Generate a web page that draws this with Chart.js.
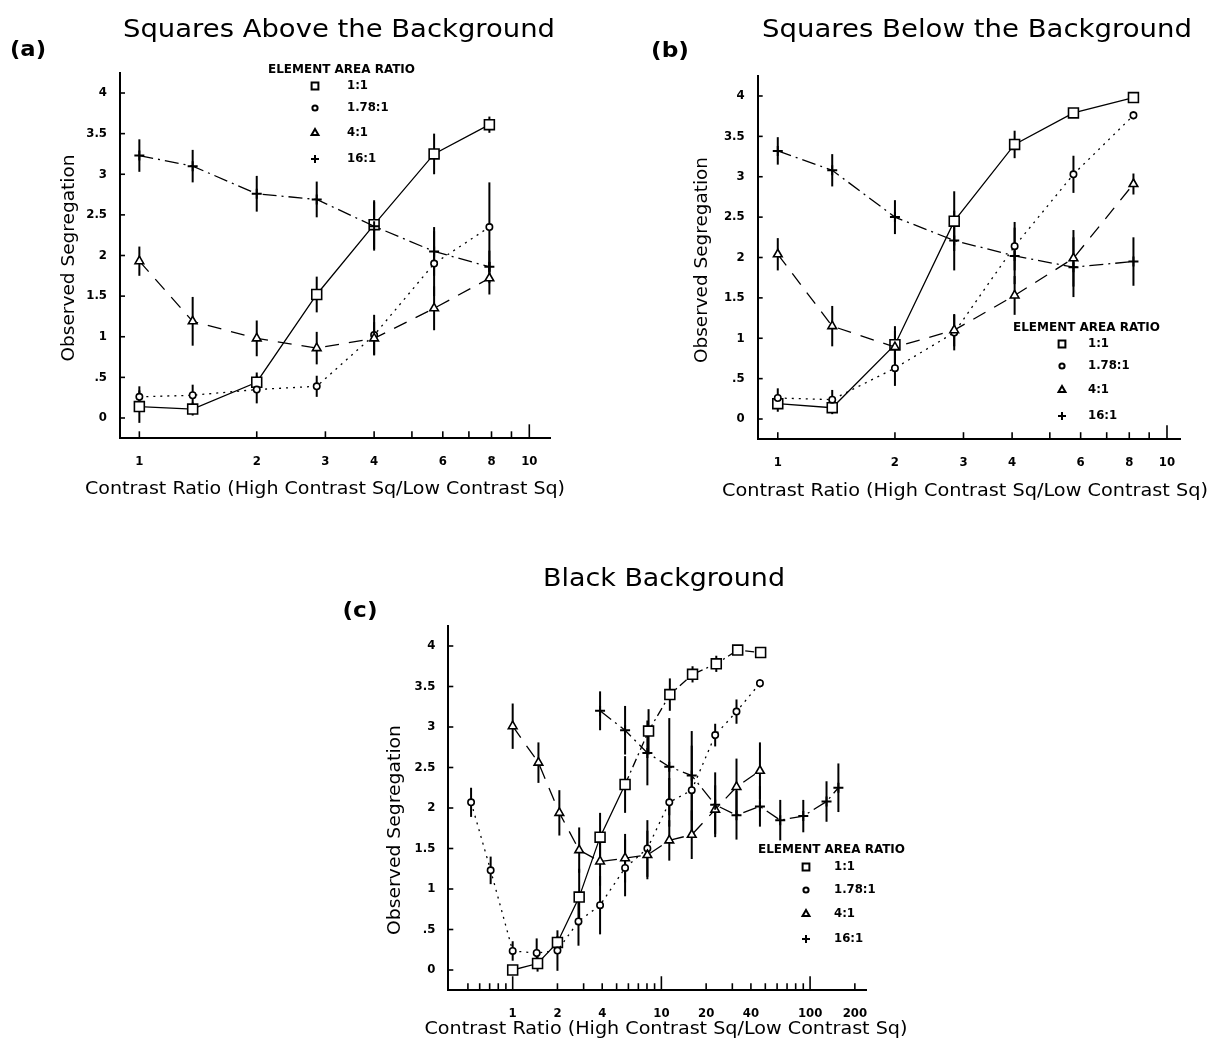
<!DOCTYPE html>
<html><head><meta charset="utf-8">
<script src="https://cdn.jsdelivr.net/npm/chart.js@4.4.0/dist/chart.umd.min.js"></script>
<style>
html,body{margin:0;padding:0;background:#fff;}
body{width:1227px;height:1049px;overflow:hidden;position:relative;}
canvas{position:absolute;left:0;top:0;}
</style></head>
<body>
<canvas id="ca" width="1227" height="1049"></canvas>
<canvas id="cb" width="1227" height="1049"></canvas>
<canvas id="cc" width="1227" height="1049"></canvas>
<script>
// ---------- DATA ----------
const seriesNames = ['1:1', '1.78:1', '4:1', '16:1'];
const legendTitle = 'ELEMENT AREA RATIO';
const yTicks = [0, 0.5, 1, 1.5, 2, 2.5, 3, 3.5, 4];
const yTickLabels = ['0', '.5', '1', '1.5', '2', '2.5', '3', '3.5', '4'];
const xTicksAB = [1, 2, 3, 4, 6, 8, 10];
const xTickLabelsAB = ['1', '2', '3', '4', '6', '8', '10'];
const xTicksC = [1, 2, 4, 10, 20, 40, 100, 200];
const xTickLabelsC = ['1', '2', '4', '10', '20', '40', '100', '200'];
const xMinorAB = [1, 2, 3, 4, 5, 6, 7, 8, 9, 10];
const xMinorC = [0.5, 0.6, 0.7, 0.8, 0.9, 1, 2, 3, 4, 5, 6, 7, 8, 9, 10, 20, 30, 40, 50, 60, 70, 80, 90, 100, 200];

// Panel (a) Squares Above the Background
const xA = [1, 1.37, 2, 2.85, 4, 5.7, 7.9];
const a_sq = [0.14, 0.11, 0.44, 1.52, 2.38, 3.25, 3.61];
const a_sqErr = [0.2, 0.08, 0.12, 0.22, 0.3, 0.25, 0.1];
const a_ci = [0.26, 0.28, 0.35, 0.39, 1.02, 1.9, 2.35];
const a_ciErr = [0.13, 0.13, 0.17, 0.13, 0.25, 0.4, 0.55];
const a_tr = [1.93, 1.19, 0.98, 0.86, 0.98, 1.35, 1.72];
const a_trErr = [0.18, 0.3, 0.22, 0.2, 0.2, 0.27, 0.2];
const a_pl = [3.23, 3.1, 2.76, 2.69, 2.36, 2.05, 1.86];
const a_plErr = [0.2, 0.2, 0.22, 0.22, 0.3, 0.3, 0.2];

// Panel (b) Squares Below the Background
const xB = [1, 1.38, 2, 2.84, 4.06, 5.75, 8.2];
const b_sq = [0.19, 0.14, 0.92, 2.45, 3.40, 3.79, 3.98];
const b_sqErr = [0.1, 0.08, 0.23, 0.37, 0.17, 0.06, 0.04];
const b_ci = [0.26, 0.24, 0.63, 1.07, 2.14, 3.03, 3.76];
const b_ciErr = [0.12, 0.12, 0.22, 0.22, 0.3, 0.23, 0.05];
const b_tr = [2.04, 1.15, 0.89, 1.1, 1.53, 1.99, 2.91];
const b_trErr = [0.2, 0.25, 0.2, 0.2, 0.24, 0.35, 0.13];
const b_pl = [3.32, 3.08, 2.5, 2.21, 2.02, 1.88, 1.95];
const b_plErr = [0.17, 0.2, 0.21, 0.37, 0.35, 0.37, 0.3];

// Panel (c) Black Background
const c_sqX = [1, 1.47, 2.0, 2.8, 3.87, 5.7, 8.2, 11.4, 16.2, 23.4, 32.6, 46.5];
const c_sq = [0.0, 0.08, 0.34, 0.90, 1.64, 2.29, 2.95, 3.40, 3.65, 3.78, 3.95, 3.92];
const c_sqErr = [0.05, 0.1, 0.08, 0.35, 0.3, 0.35, 0.27, 0.2, 0.1, 0.1, 0.03, 0.03];
const c_ciX = [0.525, 0.711, 1, 1.45, 2.0, 2.77, 3.87, 5.7, 8.05, 11.3, 16, 23, 32, 46];
const c_ci = [2.07, 1.23, 0.235, 0.21, 0.24, 0.6, 0.80, 1.26, 1.50, 2.07, 2.22, 2.90, 3.19, 3.54];
const c_ciErr = [0.18, 0.17, 0.12, 0.18, 0.25, 0.3, 0.36, 0.35, 0.35, 0.3, 0.55, 0.14, 0.15, 0.05];
const c_trX = [1, 1.49, 2.06, 2.8, 3.87, 5.7, 8.05, 11.3, 16, 23, 32, 46];
const c_tr = [3.01, 2.56, 1.94, 1.48, 1.34, 1.38, 1.42, 1.60, 1.67, 1.98, 2.26, 2.46];
const c_trErr = [0.28, 0.25, 0.28, 0.28, 0.3, 0.3, 0.3, 0.25, 0.3, 0.3, 0.35, 0.35];
const c_plX = [3.87, 5.7, 8.05, 11.3, 16, 23, 32, 46, 63, 90, 129, 155];
const c_pl = [3.20, 2.96, 2.68, 2.51, 2.40, 2.04, 1.91, 2.02, 1.85, 1.90, 2.08, 2.25];
const c_plErr = [0.24, 0.3, 0.4, 0.6, 0.55, 0.4, 0.3, 0.25, 0.25, 0.2, 0.25, 0.3];

// ---------- RENDERING ----------
const W = 1227, H = 1049;
const FONT_T = "'DejaVu Sans', 'Liberation Sans', sans-serif";
const FONT_B = "'DejaVu Sans Condensed', 'Liberation Sans Narrow', 'DejaVu Sans', sans-serif";
const STYLES = [
  {pointStyle: 'rect', radius: 7, dash: []},
  {pointStyle: 'circle', radius: 3.2, dash: [2, 5]},
  {pointStyle: 'triangle', radius: 5, dash: [14, 10]},
  {pointStyle: 'cross', radius: 5, dash: [14, 5, 2, 5]}
];

function fitText(ctx, s, x, y, w, font, o) {
  o = o || {};
  ctx.save();
  ctx.font = font; ctx.fillStyle = '#000';
  ctx.textAlign = o.align || 'center';
  ctx.textBaseline = o.baseline || 'alphabetic';
  ctx.translate(x, y);
  if (o.rot) ctx.rotate(o.rot);
  if (w) { const m = ctx.measureText(s).width; ctx.scale(w / m, 1); }
  ctx.fillText(s, 0, 0);
  ctx.restore();
}

function mkSet(i, xs, ys, errs, extra) {
  const st = STYLES[i];
  return Object.assign({
    label: seriesNames[i],
    data: xs.map((x, k) => ({x: x, y: ys[k]})),
    errs: errs,
    borderColor: '#000', borderWidth: 1.3, borderDash: st.dash,
    pointStyle: st.pointStyle, pointRadius: st.radius,
    pointBackgroundColor: i === 3 ? '#000' : '#fff',
    pointBorderColor: '#000', pointBorderWidth: i === 3 ? 2 : 1.6,
    fill: false, tension: 0, showLine: true
  }, extra || {});
}

const errPlugin = {
  id: 'errbars',
  beforeDatasetsDraw(chart) {
    const ctx = chart.ctx, xs = chart.scales.x, ys = chart.scales.y;
    ctx.save(); ctx.strokeStyle = '#000'; ctx.lineWidth = 2; ctx.setLineDash([]);
    chart.data.datasets.forEach(ds => {
      if (!ds.errs) return;
      ds.data.forEach((p, i) => {
        const e = ds.errs[i]; if (!e) return;
        const px = xs.getPixelForValue(p.x);
        ctx.beginPath();
        ctx.moveTo(px, ys.getPixelForValue(p.y - e));
        ctx.lineTo(px, ys.getPixelForValue(p.y + e));
        ctx.stroke();
      });
    });
    ctx.restore();
  }
};

function makeChart(id, cfg) {
  const a = cfg.area;
  const deco = {
    id: 'deco',
    afterDraw(chart) {
      const ctx = chart.ctx, xs = chart.scales.x, ys = chart.scales.y, ca = chart.chartArea;
      ctx.save(); ctx.strokeStyle = '#000'; ctx.lineWidth = 1.6; ctx.setLineDash([]);
      cfg.xMinor.forEach(v => {
        const px = xs.getPixelForValue(v);
        const len = cfg.xLong.indexOf(v) >= 0 ? 14 : 7;
        ctx.beginPath(); ctx.moveTo(px, ca.bottom); ctx.lineTo(px, ca.bottom - len); ctx.stroke();
      });
      yTicks.forEach(v => {
        const py = ys.getPixelForValue(v);
        ctx.beginPath(); ctx.moveTo(ca.left, py); ctx.lineTo(ca.left + 5, py); ctx.stroke();
      });
      ctx.restore();
      cfg.texts.forEach(t => fitText(ctx, t.s, t.x, t.y, t.w, t.font, t));
      // legend
      const L = cfg.legend;
      fitText(ctx, legendTitle, L.hx, L.hy, 147, 'bold 13px ' + FONT_B, {baseline: 'middle'});
      L.rows.forEach((ry, i) => {
        const st = STYLES[i];
        ctx.save();
        ctx.strokeStyle = '#000'; ctx.fillStyle = i === 3 ? '#000' : '#fff'; ctx.lineWidth = 2; ctx.setLineDash([]);
        const r = [4.8, 2.6, 4, 4][i];
        Chart.helpers.drawPoint(ctx, {pointStyle: st.pointStyle, radius: r, borderWidth: 2, rotation: 0}, L.sx, ry);
        ctx.restore();
        fitText(ctx, seriesNames[i], L.lx, ry, null, 'bold 13px ' + FONT_B, {align: 'left', baseline: 'middle'});
      });
    }
  };
  return new Chart(document.getElementById(id), {
    type: 'line',
    data: {datasets: cfg.sets},
    options: {
      responsive: false, animation: false, events: [],
      layout: {padding: {left: a.l - 40, top: a.t, right: W - a.r, bottom: H - a.b - 40}},
      plugins: {legend: {display: false}, tooltip: {enabled: false}, title: {display: false}},
      scales: {
        x: {
          type: 'logarithmic', min: cfg.xmin, max: cfg.xmax,
          afterFit(s) { s.height = 40; },
          afterBuildTicks(s) { s.ticks = cfg.xTicks.map(v => ({value: v})); },
          ticks: {autoSkip: false, maxRotation: 0, minRotation: 0, padding: 16, color: '#000',
            font: {family: FONT_B, size: 13, weight: 'bold'},
            callback: (v, i) => cfg.xLabels[i]},
          grid: {display: false, drawTicks: false},
          border: {display: true, color: '#000', width: 2}
        },
        y: {
          type: 'linear', min: -0.25, max: 4.25,
          afterFit(s) { s.width = 40; },
          afterBuildTicks(s) { s.ticks = yTicks.map(v => ({value: v})); },
          ticks: {autoSkip: false, padding: 13, color: '#000',
            font: {family: FONT_B, size: 13, weight: 'bold'},
            callback: (v, i) => yTickLabels[i]},
          grid: {display: false, drawTicks: false},
          border: {display: true, color: '#000', width: 2}
        }
      }
    },
    plugins: [errPlugin, deco]
  });
}

const TITLE_F = '25px ' + FONT_T;
const LAB_F = '17px ' + FONT_T;
const PANEL_F = 'bold 22px ' + FONT_T;
const XLABEL = 'Contrast Ratio (High Contrast Sq/Low Contrast Sq)';
const YLABEL = 'Observed Segregation';

makeChart('ca', {
  area: {l: 120, r: 550, t: 72.7, b: 438.3},
  xmin: 0.892, xmax: 11.3, xTicks: xTicksAB, xLabels: xTickLabelsAB, xMinor: xMinorAB, xLong: [10],
  sets: [
    mkSet(3, xA, a_pl, a_plErr), mkSet(2, xA, a_tr, a_trErr),
    mkSet(1, xA, a_ci, a_ciErr), mkSet(0, xA, a_sq, a_sqErr)
  ],
  texts: [
    {s: 'Squares Above the Background', x: 339, y: 37, w: 432, font: TITLE_F},
    {s: '(a)', x: 28, y: 56, w: 36, font: PANEL_F},
    {s: YLABEL, x: 70, y: 258, w: 207, font: LAB_F, rot: -Math.PI / 2, baseline: 'middle'},
    {s: XLABEL, x: 325, y: 490, w: 480, font: LAB_F, baseline: 'middle'}
  ],
  legend: {hx: 341.5, hy: 70, sx: 315, lx: 347, rows: [86, 108, 133, 159]}
});

makeChart('cb', {
  area: {l: 757.7, r: 1180, t: 75.8, b: 439.2},
  xmin: 0.888, xmax: 10.8, xTicks: xTicksAB, xLabels: xTickLabelsAB, xMinor: xMinorAB, xLong: [10],
  sets: [
    mkSet(3, xB, b_pl, b_plErr), mkSet(2, xB, b_tr, b_trErr),
    mkSet(1, xB, b_ci, b_ciErr), mkSet(0, xB, b_sq, b_sqErr)
  ],
  texts: [
    {s: 'Squares Below the Background', x: 977, y: 37, w: 430, font: TITLE_F},
    {s: '(b)', x: 670, y: 57, w: 38, font: PANEL_F},
    {s: YLABEL, x: 703, y: 260, w: 206, font: LAB_F, rot: -Math.PI / 2, baseline: 'middle'},
    {s: XLABEL, x: 965, y: 492, w: 486, font: LAB_F, baseline: 'middle'}
  ],
  legend: {hx: 1086.5, hy: 328, sx: 1062, lx: 1088, rows: [344, 366, 390, 416]}
});

makeChart('cc', {
  area: {l: 448.3, r: 866, t: 625.75, b: 990.25},
  xmin: 0.369, xmax: 237.7, xTicks: xTicksC, xLabels: xTickLabelsC, xMinor: xMinorC, xLong: [1, 10, 100],
  sets: [
    mkSet(3, c_plX, c_pl, c_plErr), mkSet(2, c_trX, c_tr, c_trErr),
    mkSet(1, c_ciX, c_ci, c_ciErr),
    mkSet(0, c_sqX, c_sq, c_sqErr, {segment: {borderDash: s => s.p0DataIndex >= 5 ? [9, 4, 2, 4] : undefined}})
  ],
  texts: [
    {s: 'Black Background', x: 664, y: 586, w: 242, font: TITLE_F},
    {s: '(c)', x: 360, y: 617, w: 35, font: PANEL_F},
    {s: YLABEL, x: 396, y: 830, w: 210, font: LAB_F, rot: -Math.PI / 2, baseline: 'middle'},
    {s: XLABEL, x: 666, y: 1030, w: 483, font: LAB_F, baseline: 'middle'}
  ],
  legend: {hx: 831.5, hy: 850, sx: 806, lx: 834, rows: [867, 890, 914, 939]}
});
</script>
</body></html>
